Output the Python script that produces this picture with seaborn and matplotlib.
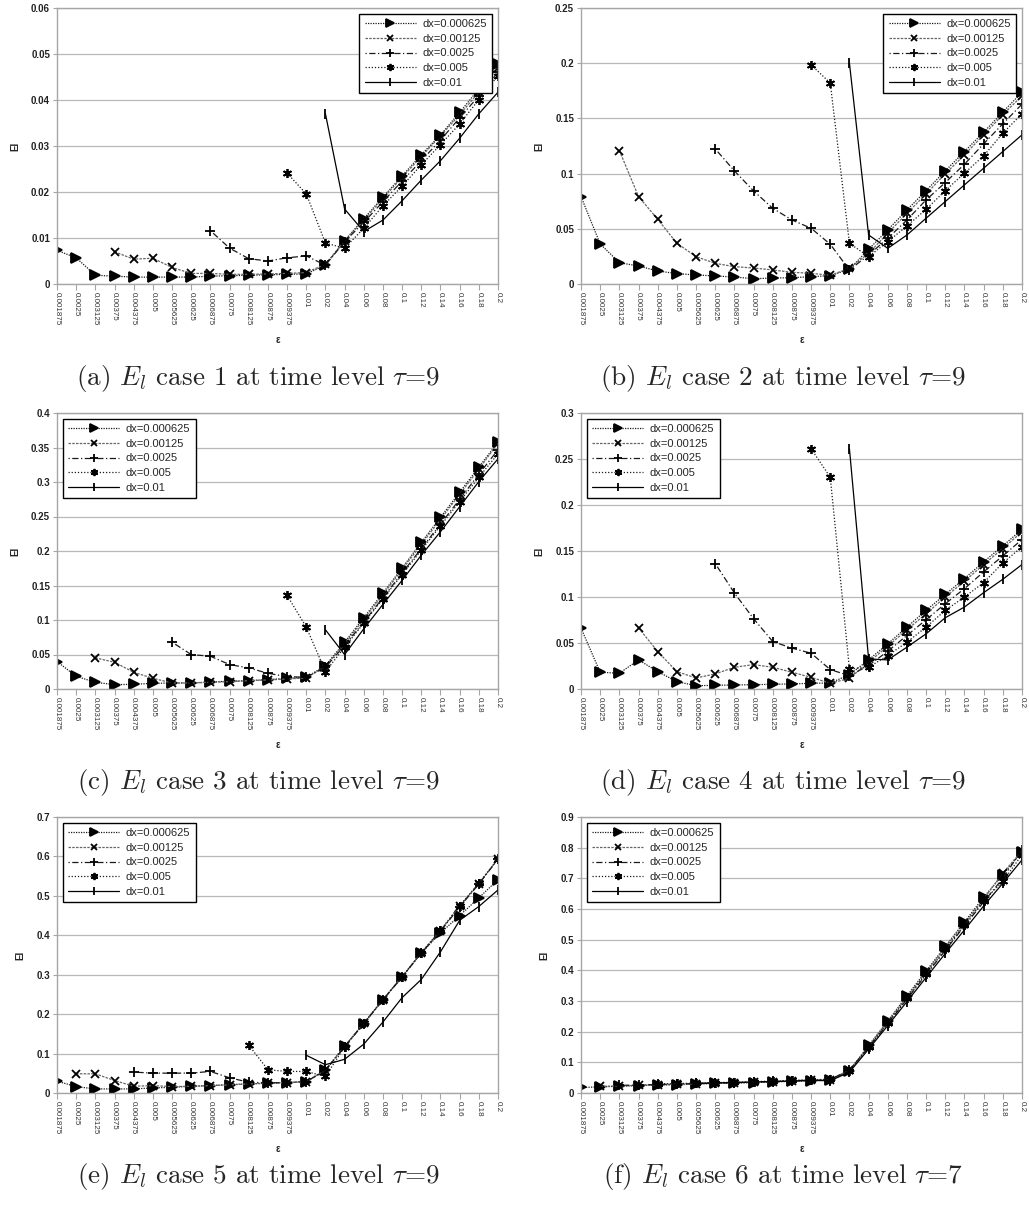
import numpy as np
import pandas as pd
import matplotlib
matplotlib.use("Agg")
import matplotlib.pyplot as plt
import seaborn as sns

# ---------------------------------------------------------------- data
eps_labels = ["0.001875", "0.0025", "0.003125", "0.00375", "0.004375", "0.005",
              "0.005625", "0.00625", "0.006875", "0.0075", "0.008125", "0.00875",
              "0.009375", "0.01", "0.02", "0.04", "0.06", "0.08", "0.1", "0.12",
              "0.14", "0.16", "0.18", "0.2"]
dx_labels = ["dx=0.000625", "dx=0.00125", "dx=0.0025", "dx=0.005", "dx=0.01"]
N = None

# case 1, tau = 9
case1_dx0000625 = [0.0073, 0.0057, 0.0019, 0.0017, 0.0015, 0.0015, 0.0015, 0.0015, 0.0017, 0.0018, 0.0019, 0.0020,
                   0.0021, 0.0022, 0.0041, 0.0094, 0.0142, 0.0189, 0.0235, 0.0281, 0.0324, 0.0373, 0.0424, 0.0479]
case1_dx000125 = [N, N, N, 0.0070, 0.0054, 0.0056, 0.0036, 0.0023, 0.0023, 0.0021, 0.0021, 0.0022,
                  0.0023, 0.0025, 0.0043, 0.0094, 0.0139, 0.0186, 0.0232, 0.0277, 0.0322, 0.0368, 0.0417, 0.0470]
case1_dx00025 = [N, N, N, N, N, N, N, N, 0.0116, 0.0078, 0.0055, 0.0050,
                 0.0057, 0.0061, 0.0041, 0.0092, 0.0134, 0.0179, 0.0224, 0.0268, 0.0313, 0.0361, 0.0409, 0.0460]
case1_dx0005 = [N, N, N, N, N, N, N, N, N, N, N, N,
                0.0241, 0.0196, 0.0089, 0.0078, 0.0121, 0.0170, 0.0213, 0.0259, 0.0303, 0.0348, 0.0401, 0.0453]
case1_dx001 = [N, N, N, N, N, N, N, N, N, N, N, N,
               N, N, 0.0370, 0.0163, 0.0114, 0.0139, 0.0181, 0.0226, 0.0268, 0.0317, 0.0370, 0.0417]

# case 2, tau = 9
case2_dx0000625 = [0.0792, 0.0363, 0.0193, 0.0163, 0.0118, 0.0094, 0.0082, 0.0073, 0.0063, 0.0048, 0.0054, 0.0057,
                   0.0066, 0.0076, 0.0133, 0.0314, 0.0490, 0.0671, 0.0846, 0.1025, 0.1200, 0.1375, 0.1557, 0.1738]
case2_dx000125 = [N, N, 0.1209, 0.0792, 0.0586, 0.0369, 0.0248, 0.0187, 0.0157, 0.0145, 0.0127, 0.0106,
                  0.0097, 0.0079, 0.0142, 0.0278, 0.0460, 0.0640, 0.0816, 0.0998, 0.1170, 0.1351, 0.1533, 0.1705]
case2_dx00025 = [N, N, N, N, N, N, N, 0.1224, 0.1025, 0.0843, 0.0686, 0.0580,
                 0.0505, 0.0360, 0.0127, 0.0263, 0.0414, 0.0580, 0.0762, 0.0919, 0.1085, 0.1270, 0.1451, 0.1629]
case2_dx0005 = [N, N, N, N, N, N, N, N, N, N, N, N,
                0.1986, 0.1820, 0.0369, 0.0248, 0.0384, 0.0526, 0.0677, 0.0846, 0.1004, 0.1161, 0.1366, 0.1542]
case2_dx001 = [N, N, N, N, N, N, N, N, N, N, N, N,
               N, N, 0.2001, 0.0444, 0.0323, 0.0444, 0.0596, 0.0747, 0.0898, 0.1049, 0.1200, 0.1351]

# case 3, tau = 9
case3_dx0000625 = [0.0398, 0.0184, 0.0097, 0.0063, 0.0068, 0.0082, 0.0087, 0.0087, 0.0102, 0.0112, 0.0121, 0.0136,
                   0.0155, 0.0170, 0.0339, 0.0679, 0.1033, 0.1392, 0.1755, 0.2124, 0.2487, 0.2851, 0.3215, 0.3578]
case3_dx000125 = [N, N, 0.0451, 0.0388, 0.0242, 0.0155, 0.0087, 0.0087, 0.0097, 0.0107, 0.0121, 0.0131,
                  0.0145, 0.0160, 0.0330, 0.0655, 0.1008, 0.1367, 0.1731, 0.2095, 0.2458, 0.2822, 0.3185, 0.3564]
case3_dx00025 = [N, N, N, N, N, N, 0.0679, 0.0499, 0.0475, 0.0354, 0.0305, 0.0228,
                 0.0179, 0.0170, 0.0315, 0.0630, 0.0970, 0.1324, 0.1682, 0.2036, 0.2390, 0.2749, 0.3113, 0.3467]
case3_dx0005 = [N, N, N, N, N, N, N, N, N, N, N, N,
                0.1358, 0.0897, 0.0252, 0.0606, 0.0955, 0.1309, 0.1658, 0.2012, 0.2366, 0.2715, 0.3069, 0.3408]
case3_dx001 = [N, N, N, N, N, N, N, N, N, N, N, N,
               N, N, 0.0858, 0.0499, 0.0873, 0.1227, 0.1576, 0.1939, 0.2279, 0.2642, 0.3006, 0.3336]

# case 4, tau = 9
case4_dx0000625 = [0.0662, 0.0182, 0.0171, 0.0316, 0.0189, 0.0080, 0.0036, 0.0040, 0.0044, 0.0047, 0.0051, 0.0055,
                   0.0062, 0.0065, 0.0156, 0.0316, 0.0491, 0.0673, 0.0855, 0.1029, 0.1200, 0.1382, 0.1556, 0.1735]
case4_dx000125 = [N, N, N, 0.0665, 0.0407, 0.0189, 0.0120, 0.0164, 0.0236, 0.0265, 0.0236, 0.0182,
                  0.0127, 0.0062, 0.0116, 0.0291, 0.0465, 0.0644, 0.0818, 0.1000, 0.1171, 0.1353, 0.1527, 0.1709]
case4_dx00025 = [N, N, N, N, N, N, N, 0.1364, 0.1044, 0.0764, 0.0516, 0.0444,
                 0.0389, 0.0211, 0.0145, 0.0255, 0.0411, 0.0582, 0.0753, 0.0927, 0.1091, 0.1273, 0.1447, 0.1625]
case4_dx0005 = [N, N, N, N, N, N, N, N, N, N, N, N,
                0.2611, 0.2302, 0.0218, 0.0236, 0.0364, 0.0509, 0.0673, 0.0855, 0.1000, 0.1156, 0.1371, 0.1545]
case4_dx001 = [N, N, N, N, N, N, N, N, N, N, N, N,
               N, N, 0.2611, 0.0327, 0.0316, 0.0455, 0.0600, 0.0775, 0.0891, 0.1047, 0.1193, 0.1353]

# case 5, tau = 9
case5_dx0000625 = [0.0299, 0.0162, 0.0103, 0.0103, 0.0103, 0.0128, 0.0145, 0.0171, 0.0188, 0.0214, 0.0231, 0.0248,
                   0.0265, 0.0290, 0.0590, 0.1188, 0.1760, 0.2370, 0.2950, 0.3550, 0.4060, 0.4500, 0.4950, 0.5410]
case5_dx000125 = [N, 0.0487, 0.0487, 0.0316, 0.0171, 0.0188, 0.0162, 0.0171, 0.0188, 0.0205, 0.0231, 0.0248,
                  0.0265, 0.0282, 0.0573, 0.1190, 0.1770, 0.2370, 0.2950, 0.3560, 0.4120, 0.4740, 0.5310, 0.5940]
case5_dx00025 = [N, N, N, N, 0.0530, 0.0504, 0.0504, 0.0504, 0.0547, 0.0385, 0.0274, 0.0256,
                 0.0265, 0.0290, 0.0573, 0.1170, 0.1760, 0.2360, 0.2940, 0.3550, 0.4100, 0.4720, 0.5300, 0.5930]
case5_dx0005 = [N, N, N, N, N, N, N, N, N, N, 0.1214, 0.0590,
                0.0547, 0.0547, 0.0419, 0.1170, 0.1770, 0.2370, 0.2950, 0.3560, 0.4130, 0.4750, 0.5320, 0.5940]
case5_dx001 = [N, N, N, N, N, N, N, N, N, N, N, N,
               N, 0.0957, 0.0718, 0.0855, 0.1240, 0.1800, 0.2420, 0.2880, 0.3580, 0.4380, 0.4730, 0.5150]

# case 6, tau = 7
case6_dx0000625 = [0.018, 0.020, 0.022, 0.024, 0.026, 0.027, 0.029, 0.031, 0.032, 0.034, 0.036, 0.038,
                   0.040, 0.042, 0.072, 0.155, 0.235, 0.317, 0.398, 0.478, 0.558, 0.638, 0.712, 0.787]
case6_dx000125 = [N, 0.022, 0.023, 0.025, 0.027, 0.028, 0.030, 0.032, 0.033, 0.035, 0.037, 0.039,
                  0.041, 0.043, 0.074, 0.152, 0.232, 0.313, 0.394, 0.474, 0.553, 0.632, 0.717, 0.790]
case6_dx00025 = [N, N, 0.025, 0.026, 0.028, 0.029, 0.031, 0.033, 0.034, 0.036, 0.038, 0.040,
                 0.042, 0.044, 0.075, 0.148, 0.226, 0.306, 0.386, 0.465, 0.545, 0.623, 0.700, 0.793]
case6_dx0005 = [N, N, N, N, 0.030, 0.031, 0.032, 0.034, 0.035, 0.037, 0.039, 0.041,
                0.043, 0.045, 0.073, 0.150, 0.228, 0.309, 0.389, 0.468, 0.548, 0.627, 0.690, 0.777]
case6_dx001 = [N, N, N, N, N, N, 0.031, 0.033, 0.034, 0.036, 0.037, 0.039,
               0.041, 0.040, 0.068, 0.143, 0.220, 0.298, 0.377, 0.455, 0.532, 0.610, 0.684, 0.760]

captions = [r"(a) $E_l$ case 1 at time level $\tau$=9",
            r"(b) $E_l$ case 2 at time level $\tau$=9",
            r"(c) $E_l$ case 3 at time level $\tau$=9",
            r"(d) $E_l$ case 4 at time level $\tau$=9",
            r"(e) $E_l$ case 5 at time level $\tau$=9",
            r"(f) $E_l$ case 6 at time level $\tau$=7"]
y_max = [0.06, 0.25, 0.4, 0.3, 0.7, 0.9]
y_step = [0.01, 0.05, 0.05, 0.05, 0.1, 0.1]

cases = [
    [case1_dx0000625, case1_dx000125, case1_dx00025, case1_dx0005, case1_dx001],
    [case2_dx0000625, case2_dx000125, case2_dx00025, case2_dx0005, case2_dx001],
    [case3_dx0000625, case3_dx000125, case3_dx00025, case3_dx0005, case3_dx001],
    [case4_dx0000625, case4_dx000125, case4_dx00025, case4_dx0005, case4_dx001],
    [case5_dx0000625, case5_dx000125, case5_dx00025, case5_dx0005, case5_dx001],
    [case6_dx0000625, case6_dx000125, case6_dx00025, case6_dx0005, case6_dx001],
]

# ---------------------------------------------------------------- styling
sns.set_theme(style="white")
plt.rcParams["font.family"] = ["Liberation Sans", "DejaVu Sans"]
plt.rcParams["mathtext.fontset"] = "cm"

series_style = {
    "dx=0.000625": dict(color="#1a1a1a", linestyle=(0, (1, 1)), marker=">", markersize=6.5),
    "dx=0.00125": dict(color="#666666", linestyle=(0, (2, 1)), marker="x", markersize=6),
    "dx=0.0025": dict(color="#1a1a1a", linestyle=(0, (1, 2, 5, 2)), marker="+", markersize=7),
    "dx=0.005": dict(color="#1a1a1a", linestyle=(0, (1, 1.5)), marker=(6, 2, 0), markersize=6.5),
    "dx=0.01": dict(color="#000000", linestyle="-", marker="|", markersize=7),
}

W, H = 1029, 1210
fig = plt.figure(figsize=(W / 100, H / 100), dpi=100)

col_left = [57, 581]
ax_w = 441
row_top = [8, 413, 817]
ax_h = 276
cap_x = [258, 783]
cap_y = [378, 783, 1177]

pos = np.arange(len(eps_labels))
grey = "#a6a6a6"

for k, series in enumerate(cases):
    r, c = divmod(k, 2)
    ax = fig.add_axes([col_left[c] / W, 1 - (row_top[r] + ax_h) / H, ax_w / W, ax_h / H])

    frames = []
    for name, vals in zip(dx_labels, series):
        df = pd.DataFrame({"pos": pos, "eps": eps_labels, "El": vals, "dx": name})
        frames.append(df.dropna(subset=["El"]))
    data = pd.concat(frames, ignore_index=True)
    data["El"] = data["El"].astype(float)

    for name in dx_labels:
        st = series_style[name]
        sns.lineplot(data=data[data["dx"] == name], x="pos", y="El", ax=ax,
                     color=st["color"], linestyle=st["linestyle"], linewidth=0.9,
                     marker=st["marker"], markersize=st["markersize"],
                     markeredgecolor="black", markerfacecolor="black",
                     markeredgewidth=1.3, label=name, errorbar=None)

    ax.set_xlim(0, len(eps_labels) - 1)
    ax.set_ylim(0, y_max[k])
    ax.set_xticks(pos)
    ax.set_xticklabels(eps_labels, rotation=270, fontsize=5.8, color="#333333")
    yt = np.round(np.arange(0, y_max[k] + y_step[k] / 2, y_step[k]), 3)
    ax.set_yticks(yt)
    ax.set_yticklabels([f"{v:g}" for v in yt], fontsize=7, fontweight="bold", color="#222222")
    ax.tick_params(axis="x", length=4, width=0.8, color=grey, pad=1.5, bottom=True)
    ax.tick_params(axis="y", length=3, width=0.8, color=grey, pad=2, left=True)
    ax.grid(axis="y", color="#b8b8b8", linewidth=0.9)
    ax.grid(axis="x", visible=False)
    ax.set_axisbelow(True)
    for sp in ax.spines.values():
        sp.set_color(grey)
        sp.set_linewidth(1.0)

    ax.set_xlabel("ε", fontsize=7, fontweight="bold", labelpad=7)
    ax.set_ylabel("El", fontsize=7, fontweight="bold", labelpad=8)

    handles, labels = ax.get_legend_handles_labels()
    leg = ax.legend(handles, labels, loc="upper right" if k < 2 else "upper left",
                    fontsize=8, handlelength=4.6, labelspacing=0.42, borderpad=0.5,
                    handletextpad=0.6, borderaxespad=0.5, frameon=True, markerscale=0.8,
                    fancybox=False, framealpha=1, edgecolor="black")
    leg.get_frame().set_linewidth(1.0)

    fig.text(cap_x[c] / W, 1 - cap_y[r] / H, captions[k], family="cmr10",
             fontsize=19.5, ha="center", va="center")

fig.savefig("out.png", dpi=100, facecolor="white")
